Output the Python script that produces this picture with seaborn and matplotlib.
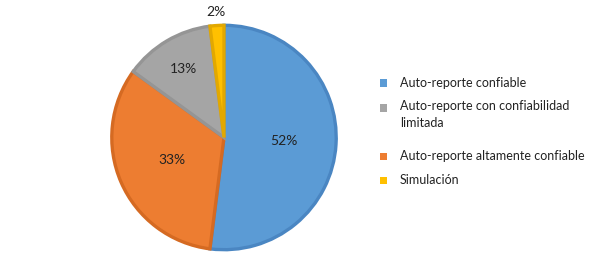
import matplotlib
matplotlib.use("Agg")
import matplotlib.pyplot as plt
import seaborn as sns
import numpy as np
from matplotlib.patches import Rectangle

categories = ["Auto-reporte confiable", "Auto-reporte altamente confiable",
              "Auto-reporte con confiabilidad\nlimitada", "Simulación"]
values = [52, 33, 13, 2]
labels = ["52%", "33%", "13%", "2%"]
fill_hex = ["#5B9BD5", "#ED7D31", "#A5A5A5", "#FFC000"]
edge_hex = ["#4A86C2", "#D56A22", "#959595", "#E2A800"]
legend_order = [0, 2, 1, 3]

sns.set_theme(style="white")
plt.rcParams['font.family'] = ['Lato', 'DejaVu Sans']

fills = sns.color_palette(fill_hex)
edges = sns.color_palette(edge_hex)

fig = plt.figure(figsize=(5.89, 2.58), dpi=100)
W, H = 589, 258
ax = fig.add_axes([109 / W, (H - 252) / H, 230 / W, 229 / H])

wedges, _ = ax.pie(values, colors=fills, startangle=90, counterclock=False,
                   radius=0.98,
                   wedgeprops=dict(linewidth=2.4))
for w, ec in zip(wedges, edges):
    w.set_edgecolor(ec)
ax.set_xlim(-1, 1)
ax.set_ylim(-1, 1)
ax.set_aspect("equal")
ax.axis("off")

dists = [0.52, 0.50, 0.70, 1.10]
for w, lab, d in zip(wedges, labels, dists):
    mid = np.deg2rad((w.theta1 + w.theta2) / 2)
    ax.text(d * np.cos(mid), d * np.sin(mid), lab, ha="center", va="center",
            fontsize=10, color="#222222", clip_on=False)

rows_y = {0: 83, 2: 108, 1: 156, 3: 180}
for i in legend_order:
    y = rows_y[i]
    fig.add_artist(Rectangle((380 / W, (H - y - 3.5) / H), 7 / W, 7 / H,
                             transform=fig.transFigure, facecolor=fills[i],
                             edgecolor="none"))
    if "\n" in categories[i]:
        fig.text(400 / W, (H - y + 7.5) / H, categories[i], ha="left", va="top",
                 fontsize=9, color="#222222", linespacing=1.45)
    else:
        fig.text(400 / W, (H - y) / H, categories[i], ha="left", va="center",
                 fontsize=9, color="#222222")

fig.savefig("out.png", dpi=100)
